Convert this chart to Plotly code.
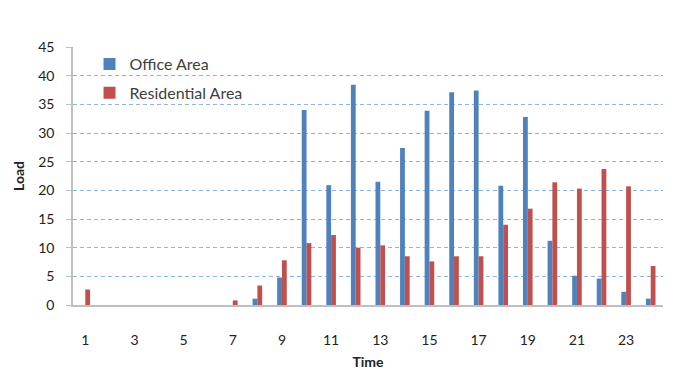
import plotly.graph_objects as go

# Hourly load profile, hours 1..24
hours = list(range(1, 25))
office_load = [0, 0, 0, 0, 0, 0, 0, 1.1, 4.8, 34.0, 20.9, 38.4,
               21.5, 27.4, 33.9, 37.1, 37.4, 20.8, 32.8, 11.2, 5.1, 4.6, 2.3, 1.1]
residential_load = [2.7, 0, 0, 0, 0, 0, 0.8, 3.4, 7.8, 10.8, 12.2, 10.0,
                    10.4, 8.5, 7.6, 8.5, 8.5, 14.0, 16.8, 21.4, 20.3, 23.7, 20.7, 6.8]
x_tick_vals = list(range(1, 24, 2))
y_tick_vals = list(range(0, 46, 5))

BLUE = "#4f81bd"
RED = "#c0504d"
FONT = "Lato, 'Open Sans', sans-serif"

fig = go.Figure()
fig.add_trace(go.Bar(x=hours, y=office_load, name="Office Area",
                     marker=dict(color=BLUE, line=dict(width=0)),
                     legendgroup="a"))
fig.add_trace(go.Bar(x=hours, y=residential_load, name="Residential Area",
                     marker=dict(color=RED, line=dict(width=0)),
                     legendgroup="b"))

fig.update_layout(
    width=697, height=370,
    margin=dict(l=73, r=34, t=47, b=65),
    paper_bgcolor="white", plot_bgcolor="white",
    barmode="group", bargap=0.61, bargroupgap=0,
    font=dict(family=FONT, color="#404040"),
    legend=dict(x=0.028, y=1.0, xanchor="left", yanchor="top",
                bgcolor="rgba(0,0,0,0)", font=dict(size=16, color="#404040"),
                tracegroupgap=5, itemwidth=30),
    xaxis=dict(
        range=[0.5, 24.5], tickmode="array", tickvals=x_tick_vals,
        ticktext=[str(v) for v in x_tick_vals],
        showgrid=False, zeroline=False, showline=True,
        linecolor="#bfbfbf", linewidth=1.5, ticks="",
        ticklabelstandoff=21, automargin=False,
        tickfont=dict(size=14, color="#222222"),
        title=dict(text="<b>Time</b>", font=dict(size=14, color="#222222"),
                   standoff=15),
    ),
    yaxis=dict(
        range=[0, 45], tickmode="array", tickvals=y_tick_vals,
        showgrid=True, gridcolor="#8eb4e3", griddash="4px,3px", gridwidth=1,
        zeroline=False, showline=True, linecolor="#bfbfbf", linewidth=1.5,
        ticks="outside", ticklen=5, tickcolor="#bfbfbf",
        ticklabelstandoff=9, automargin=False,
        tickfont=dict(size=14, color="#222222"),
        title=dict(text="<b>Load</b>", font=dict(size=14, color="#222222"),
                   standoff=10),
    ),
)

fig.write_html("out.html")
